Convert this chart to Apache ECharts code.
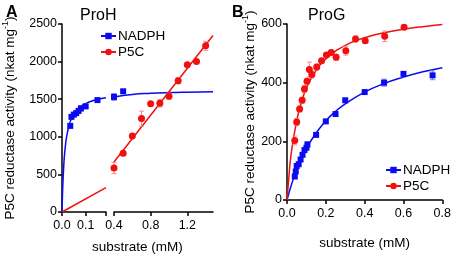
<!DOCTYPE html>
<html>
<head>
<meta charset="utf-8">
<script src="https://cdn.jsdelivr.net/npm/echarts@6/dist/echarts.min.js"></script>
<style>
  html, body { margin: 0; padding: 0; background: #fff; }
  #main { width: 454px; height: 255px; }
</style>
</head>
<body>
<div id="main"></div>
<script>
// panel A (ProH) - measured points [substrate mM, activity]
const proH_nadph_pts = [[0.035,1145],[0.04,1265],[0.05,1295],[0.06,1315],[0.07,1345],[0.08,1378],[0.1,1405],[0.15,1488],[0.4,1530],[0.5,1605]];
const proH_nadph_err = [20, 25, 20, 15, 30, 35, 30, 15, 45, 20];
const proH_p5c_pts = [[0.4,585],[0.5,780],[0.6,1012],[0.7,1242],[0.8,1438],[0.9,1447],[1.0,1540],[1.1,1745],[1.2,1957],[1.3,2001],[1.4,2210]];
const proH_p5c_err = [75, 30, 20, 100, 20, 50, 40, 40, 25, 20, 60];
// fitted curves
const proH_nadph_fit1 = [[0,0],[0.002,225],[0.004,400],[0.007,590],[0.01,740],[0.015,900],[0.02,1010],[0.03,1150],[0.04,1240],[0.06,1345],[0.08,1405],[0.1,1442],[0.13,1480],[0.16,1505],[0.186,1518]];
const proH_nadph_fit2 = [[0.4,1530],[0.6,1562],[0.8,1578],[1.0,1588],[1.2,1594],[1.48,1600]];
const proH_p5c_fit1 = [[0,0],[0.186,325]];
const proH_p5c_fit2 = [[0.4,666],[1.48,2346]];

// panel B (ProG)
const proG_nadph_pts = [[0.04,80],[0.045,97],[0.05,116],[0.06,122],[0.07,138],[0.08,154],[0.09,170],[0.1,178],[0.105,189],[0.15,222],[0.2,268],[0.25,293],[0.3,340],[0.4,368],[0.5,400],[0.6,430],[0.75,425]];
const proG_nadph_err = [5, 5, 5, 5, 5, 5, 5, 6, 10, 5, 5, 5, 5, 6, 12, 6, 15];
const proG_p5c_pts = [[0.04,203],[0.05,266],[0.065,310],[0.078,340],[0.09,378],[0.103,405],[0.115,445],[0.128,428],[0.153,453],[0.178,475],[0.203,494],[0.228,503],[0.253,487],[0.303,509],[0.353,549],[0.403,543],[0.503,558],[0.603,589]];
const proG_p5c_err = [15, 12, 10, 10, 12, 10, 25, 12, 10, 8, 8, 8, 10, 15, 10, 8, 18, 8];
const proG_nadph_fit = [[0,0],[0.02,46],[0.05,103],[0.1,176],[0.15,228],[0.2,270],[0.25,302],[0.3,328],[0.4,368],[0.5,397],[0.6,419],[0.7,437],[0.8,451]];
const proG_p5c_fit = [[0,0],[0.01,80],[0.02,150],[0.04,235],[0.06,300],[0.08,345],[0.1,382],[0.15,442],[0.2,481],[0.3,527],[0.4,553],[0.5,570],[0.6,582],[0.7,591],[0.8,598]];

const yTicksA = [0, 500, 1000, 1500, 2000, 2500];
const yTicksB = [0, 200, 400, 600];

const BLUE = '#0a0af0';
const RED = '#f01010';
const FONT = '"Liberation Sans", Arial, sans-serif';

function withErr(pts, err) {
  return pts.map((p, i) => [p[0], p[1], err[i]]);
}

function errSeries(pts, err, color, xi, yi, lo, hi) {
  const d = withErr(pts, err).filter(p => p[0] >= lo && p[0] <= hi);
  return {
    type: 'custom', xAxisIndex: xi, yAxisIndex: yi, silent: true, z: 3,
    data: d,
    renderItem: function (params, api) {
      const x = api.value(0), y = api.value(1), e = api.value(2);
      const top = api.coord([x, y + e]);
      const bot = api.coord([x, y - e]);
      const w = 2.5;
      const st = { stroke: color, lineWidth: 1 };
      return {
        type: 'group',
        children: [
          { type: 'line', shape: { x1: top[0], y1: top[1], x2: bot[0], y2: bot[1] }, style: st },
          { type: 'line', shape: { x1: top[0] - w, y1: top[1], x2: top[0] + w, y2: top[1] }, style: st },
          { type: 'line', shape: { x1: bot[0] - w, y1: bot[1], x2: bot[0] + w, y2: bot[1] }, style: st }
        ]
      };
    }
  };
}

function fitLine(name, data, color, sym, xi, yi, smooth) {
  return {
    name: name, type: 'line', xAxisIndex: xi, yAxisIndex: yi,
    data: data, smooth: smooth, showSymbol: false, symbol: sym,
    lineStyle: { color: color, width: 1.5 }, itemStyle: { color: color },
    z: 2
  };
}

function points(name, pts, color, sym, size, xi, yi, lo, hi) {
  return {
    name: name, type: 'scatter', xAxisIndex: xi, yAxisIndex: yi,
    data: pts.filter(p => p[0] >= lo && p[0] <= hi),
    symbol: sym, symbolSize: size,
    itemStyle: { color: color, opacity: 1 }, z: 4
  };
}

const axisLine = { lineStyle: { color: '#000', width: 1.5 } };
const axisTick = { length: 4, lineStyle: { color: '#000', width: 1.5 } };
const labelStyle = { color: '#000', fontSize: 12.5, fontFamily: FONT, margin: 5 };
const xLabelStyle = Object.assign({}, labelStyle, { margin: 7 });
const yName = '{a|P5C reductase activity (nkat mg}{s|-1}{a|)}';
const yNameStyle = {
  color: '#000', fontFamily: FONT,
  rich: {
    a: { fontSize: 13.5, fontFamily: FONT, color: '#000', lineHeight: 16, verticalAlign: 'bottom' },
    s: { fontSize: 9, fontFamily: FONT, color: '#000', lineHeight: 16, verticalAlign: 'top' }
  }
};

const chart = echarts.init(document.getElementById('main'), null, { renderer: 'canvas' });
chart.setOption({
  animation: false,
  backgroundColor: '#fff',
  title: [
    { text: 'A', left: 1, top: 0, textStyle: { fontSize: 16, fontWeight: 'bold', color: '#000', fontFamily: FONT } },
    { text: 'ProH', left: 75, top: 3, textStyle: { fontSize: 16, fontWeight: 'normal', color: '#000', fontFamily: FONT } },
    { text: 'B', left: 227, top: 0, textStyle: { fontSize: 16, fontWeight: 'bold', color: '#000', fontFamily: FONT } },
    { text: 'ProG', left: 303, top: 3, textStyle: { fontSize: 16, fontWeight: 'normal', color: '#000', fontFamily: FONT } },
    { text: 'substrate (mM)', left: 87, top: 235, textStyle: { fontSize: 13.5, fontWeight: 'normal', color: '#000', fontFamily: FONT } }
  ],
  legend: [
    {
      data: ['NADPH', 'P5C'], orient: 'vertical', left: 95, top: 24, itemGap: 2,
      itemWidth: 15, itemHeight: 8,
      textStyle: { fontSize: 13.5, color: '#000', fontFamily: FONT, padding: [0, 0, 0, -3] }
    },
    {
      data: ['NADPH ', 'P5C '], orient: 'vertical', left: 380, top: 158, itemGap: 2,
      itemWidth: 15, itemHeight: 8,
      textStyle: { fontSize: 13.5, color: '#000', fontFamily: FONT, padding: [0, 0, 0, -3] }
    }
  ],
  grid: [
    { left: 57, top: 24, width: 49, height: 188 },
    { left: 114, top: 24, width: 99, height: 188 },
    { left: 287, top: 24, width: 157, height: 188 }
  ],
  xAxis: [
    {
      gridIndex: 0, type: 'value', min: 0, max: 0.186, interval: 0.1,
      axisLine: axisLine, splitLine: { show: false },
      axisTick: Object.assign({ customValues: [0, 0.1, 0.186] }, axisTick),
      axisLabel: Object.assign({ customValues: [0, 0.1], formatter: v => v.toFixed(1) }, xLabelStyle)
    },
    {
      gridIndex: 1, type: 'value', min: 0.4, max: 1.48, interval: 0.4,
      axisLine: axisLine, splitLine: { show: false },
      axisTick: Object.assign({ customValues: [0.4, 0.8, 1.2] }, axisTick),
      axisLabel: Object.assign({ customValues: [0.4, 0.8, 1.2], formatter: v => v.toFixed(1) }, xLabelStyle)
    },
    {
      gridIndex: 2, type: 'value', min: 0, max: 0.8, interval: 0.2,
      axisLine: axisLine, axisTick: axisTick, splitLine: { show: false },
      axisLabel: Object.assign({ formatter: v => v.toFixed(1) }, xLabelStyle),
      name: 'substrate (mM)', nameLocation: 'middle', nameGap: 36,
      nameTextStyle: { fontSize: 13.5, color: '#000', fontFamily: FONT }
    }
  ],
  yAxis: [
    {
      gridIndex: 0, type: 'value', min: 0, max: 2500, interval: 500,
      axisLine: { show: true, lineStyle: { color: '#000', width: 1.5 } },
      axisTick: Object.assign({ show: true, customValues: yTicksA }, axisTick),
      axisLabel: Object.assign({ customValues: yTicksA, formatter: v => String(v) }, labelStyle),
      splitLine: { show: false },
      name: yName, nameLocation: 'middle', nameGap: 45, nameTextStyle: yNameStyle
    },
    {
      gridIndex: 1, type: 'value', min: 0, max: 2500, interval: 500,
      show: false, splitLine: { show: false }
    },
    {
      gridIndex: 2, type: 'value', min: 0, max: 600, interval: 200,
      axisLine: { show: true, lineStyle: { color: '#000', width: 1.5 } },
      axisTick: Object.assign({ show: true, customValues: yTicksB }, axisTick),
      axisLabel: Object.assign({ customValues: yTicksB, formatter: v => String(v) }, labelStyle),
      splitLine: { show: false },
      name: yName, nameLocation: 'middle', nameGap: 29, nameTextStyle: yNameStyle
    }
  ],
  series: [
    // panel A, left segment
    fitLine('NADPH', proH_nadph_fit1, BLUE, 'rect', 0, 0, true),
    fitLine('P5C', proH_p5c_fit1, RED, 'circle', 0, 0, false),
    // panel A, right segment
    fitLine('NADPH', proH_nadph_fit2, BLUE, 'rect', 1, 1, true),
    fitLine('P5C', proH_p5c_fit2, RED, 'circle', 1, 1, false),
    errSeries(proH_nadph_pts, proH_nadph_err, '#7a7af5', 0, 0, 0, 0.186),
    errSeries(proH_nadph_pts, proH_nadph_err, '#7a7af5', 1, 1, 0.4, 2),
    errSeries(proH_p5c_pts, proH_p5c_err, '#f58a8a', 1, 1, 0.4, 2),
    points('NADPH', proH_nadph_pts, BLUE, 'rect', 6, 0, 0, 0, 0.186),
    points('NADPH', proH_nadph_pts, BLUE, 'rect', 6, 1, 1, 0.4, 2),
    points('P5C', proH_p5c_pts, RED, 'circle', 7, 1, 1, 0.4, 2),
    // panel B
    fitLine('NADPH ', proG_nadph_fit, BLUE, 'rect', 2, 2, true),
    fitLine('P5C ', proG_p5c_fit, RED, 'circle', 2, 2, true),
    errSeries(proG_nadph_pts, proG_nadph_err, '#7a7af5', 2, 2, 0, 1),
    errSeries(proG_p5c_pts, proG_p5c_err, '#f58a8a', 2, 2, 0, 1),
    points('NADPH ', proG_nadph_pts, BLUE, 'rect', 6, 2, 2, 0, 1),
    points('P5C ', proG_p5c_pts, RED, 'circle', 7, 2, 2, 0, 1)
  ]
});
</script>
</body>
</html>
